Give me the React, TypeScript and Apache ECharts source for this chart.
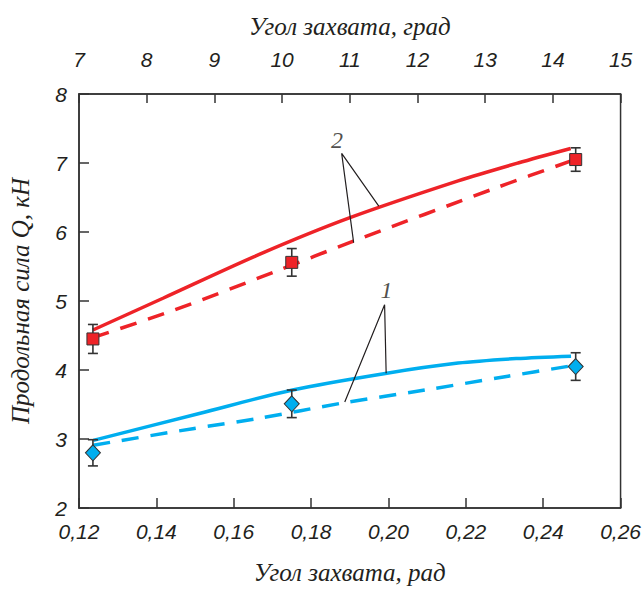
import React, { useEffect, useRef } from "react";
import * as echarts from "echarts";

// Bottom axis: capture angle, rad; top axis: capture angle, degrees
const radTicksMin = 0.12;
const radTicksMax = 0.26;
const degMin = 7;
const degMax = 15;

// Experimental points (x in rad)
const pointX = [0.1236, 0.175, 0.2484];
const redPointY = [4.45, 5.56, 7.05];
const redPointErr = [0.21, 0.2, 0.17];
const bluePointY = [2.8, 3.51, 4.05];
const bluePointErr = [0.19, 0.2, 0.2];

// Curve 2 (red)
const redSolidX = [0.1236, 0.1417, 0.1666, 0.1897, 0.218, 0.2335, 0.2471];
const redSolidY = [4.58, 5.04, 5.675, 6.2, 6.74, 7.0, 7.21];
const redDashX = [0.1236, 0.1447, 0.1709, 0.1906, 0.2283, 0.2472];
const redDashY = [4.47, 4.87, 5.43, 5.86, 6.65, 7.03];

// Curve 1 (blue)
const blueSolidX = [0.1237, 0.1511, 0.1752, 0.1992, 0.218, 0.233, 0.2472];
const blueSolidY = [2.98, 3.37, 3.71, 3.95, 4.1, 4.165, 4.2];
const blueDashX = [0.1237, 0.1494, 0.1666, 0.188, 0.2095, 0.2309, 0.2472];
const blueDashY = [2.91, 3.15, 3.3, 3.52, 3.71, 3.91, 4.06];

// Leader lines for labels "1" and "2"
const leader2X = [0.1975, 0.1879, 0.191];
const leader2Y = [6.374, 7.139, 5.847];
const leader1X = [0.1994, 0.199, 0.1887];
const leader1Y = [3.952, 4.947, 3.536];
const labelNames = ["2", "1"];
const labelX = [0.1867, 0.1995];
const labelY = [7.33, 5.16];

const RED = "#ee2328";
const BLUE = "#00aeef";
const DARK = "#333333";

const zip = (xs: number[], ys: number[]) => xs.map((x, i) => [x, ys[i]]);

export default function App() {
  const ref = useRef<HTMLDivElement>(null);
  useEffect(() => {
    if (!ref.current) return;
    document.body.style.margin = "0";
    document.body.style.overflow = "hidden";
    const chart = echarts.init(ref.current, null, { renderer: "svg" });
    const tickFont = {
      fontFamily: "Liberation Sans",
      fontStyle: "italic" as const,
      color: "#231f20",
    };
    const titleFont = {
      fontFamily: "Liberation Serif",
      fontStyle: "italic" as const,
      fontSize: 25,
      color: "#231f20",
    };
    const errRender = (params: any, api: any) => {
      const x = api.value(0);
      const lo = api.value(1);
      const hi = api.value(2);
      const p1 = api.coord([x, lo]);
      const p2 = api.coord([x, hi]);
      const w = 5;
      const style = { stroke: DARK, lineWidth: 1.6 };
      return {
        type: "group",
        children: [
          { type: "line", shape: { x1: p1[0], y1: p1[1], x2: p2[0], y2: p2[1] }, style },
          { type: "line", shape: { x1: p1[0] - w, y1: p1[1], x2: p1[0] + w, y2: p1[1] }, style },
          { type: "line", shape: { x1: p2[0] - w, y1: p2[1], x2: p2[0] + w, y2: p2[1] }, style },
        ],
      };
    };
    const errData = (ys: number[], es: number[]) =>
      pointX.map((x, i) => [x, ys[i] - es[i], ys[i] + es[i]]);
    const curve = (xs: number[], ys: number[], color: string, dashed: boolean) => ({
      type: "line",
      data: zip(xs, ys),
      smooth: 0.3,
      symbol: "none",
      lineStyle: { color, width: 3.5, type: dashed ? [17, 12] : "solid" },
      z: 3,
    });

    chart.setOption({
      animation: false,
      grid: {
        left: 79,
        right: 21,
        top: 94,
        bottom: 78,
        show: true,
        borderColor: DARK,
        borderWidth: 1.5,
        backgroundColor: "transparent",
      },
      xAxis: [
        {
          type: "value",
          position: "bottom",
          min: radTicksMin,
          max: radTicksMax,
          interval: 0.02,
          axisLine: { show: true, lineStyle: { color: DARK, width: 1.5 } },
          axisTick: { show: true, inside: true, length: 10, lineStyle: { color: DARK, width: 1.5 } },
          splitLine: { show: false },
          axisLabel: {
            ...tickFont,
            fontSize: 21,
            margin: 13,
            formatter: (v: number) => v.toFixed(2).replace(".", ","),
          },
          name: "Угол захвата, рад",
          nameLocation: "middle",
          nameGap: 52,
          nameTextStyle: titleFont,
        },
        {
          type: "value",
          position: "top",
          min: degMin,
          max: degMax,
          interval: 1,
          axisLine: { show: true, lineStyle: { color: DARK, width: 1.5 } },
          axisTick: { show: true, inside: true, length: 9, lineStyle: { color: DARK, width: 1.5 } },
          splitLine: { show: false },
          axisLabel: { ...tickFont, fontSize: 21, margin: 24 },
          name: "Угол захвата, град",
          nameLocation: "middle",
          nameGap: 55,
          nameTextStyle: titleFont,
        },
      ],
      yAxis: {
        type: "value",
        min: 2,
        max: 8,
        interval: 1,
        axisLine: { show: true, lineStyle: { color: DARK, width: 1.5 } },
        axisTick: { show: true, inside: true, length: 10, lineStyle: { color: DARK, width: 1.5 } },
        splitLine: { show: false },
        axisLabel: { ...tickFont, fontSize: 21, margin: 12 },
        name: "Продольная сила Q, кН",
        nameLocation: "middle",
        nameGap: 46,
        nameRotate: 90,
        nameTextStyle: titleFont,
      },
      series: [
        curve(redSolidX, redSolidY, RED, false),
        curve(redDashX, redDashY, RED, true),
        curve(blueSolidX, blueSolidY, BLUE, false),
        curve(blueDashX, blueDashY, BLUE, true),
        {
          type: "line",
          data: zip(leader2X, leader2Y),
          symbol: "none",
          lineStyle: { color: "#231f20", width: 1.2 },
          z: 4,
        },
        {
          type: "line",
          data: zip(leader1X, leader1Y),
          symbol: "none",
          lineStyle: { color: "#231f20", width: 1.2 },
          z: 4,
        },
        {
          type: "custom",
          renderItem: errRender,
          data: errData(redPointY, redPointErr),
          z: 5,
        },
        {
          type: "custom",
          renderItem: errRender,
          data: errData(bluePointY, bluePointErr),
          z: 5,
        },
        {
          type: "scatter",
          data: zip(pointX, redPointY),
          symbol: "rect",
          symbolSize: 12,
          itemStyle: { color: RED, borderColor: DARK, borderWidth: 1, opacity: 1 },
          z: 6,
        },
        {
          type: "scatter",
          data: zip(pointX, bluePointY),
          symbol: "diamond",
          symbolSize: [15, 16],
          itemStyle: { color: BLUE, borderColor: DARK, borderWidth: 1, opacity: 1 },
          z: 6,
        },
        {
          type: "scatter",
          data: labelX.map((x, i) => ({ value: [x, labelY[i]], name: labelNames[i] })),
          symbolSize: 0,
          label: {
            show: true,
            position: "inside",
            formatter: (p: any) => p.name,
            ...titleFont,
            fontSize: 24,
          },
          z: 7,
        },
      ],
    });
    return () => chart.dispose();
  }, []);
  return (
    <div
      ref={ref}
      style={{ position: "absolute", left: 0, top: 0, width: 644, height: 590 }}
    />
  );
}
